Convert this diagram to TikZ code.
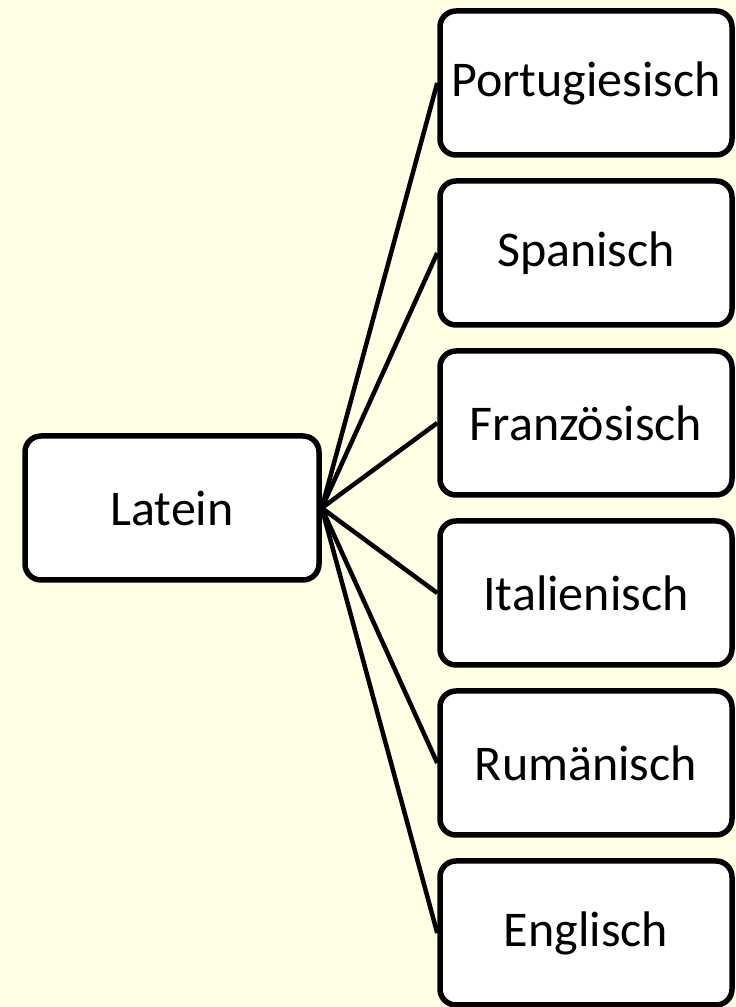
\documentclass[tikz,border=0pt]{standalone}
\usepackage{fontspec}
\setmainfont{Carlito}
\usetikzlibrary{positioning}
\definecolor{bgyellow}{RGB}{255,255,230}
\tikzset{langbox/.style={draw=black, line width=5.5pt, fill=white, rounded corners=16pt,
    minimum width=292pt, minimum height=144pt, inner sep=0pt,
    font=\fontsize{50}{60}\selectfont}}

\begin{document}
\begin{tikzpicture}[x=1pt,y=1pt]
\fill[bgyellow] (0,0) rectangle (736,1007);
\useasboundingbox (0,0) rectangle (736,1007);

\node[langbox, minimum width=294pt] (latein) at (172,499) {Latein};

\foreach \n/\t [count=\i] in {por/Portugiesisch, spa/Spanisch, fra/Französisch,
                               ita/Italienisch, rum/Rumänisch, eng/Englisch}
         {
           \node[langbox] (\n) at (586,{1007-83-170*(\i-1)}) {\t};
           \draw[line width=4.5pt] (latein.east) -- (\n.west);
         }
\end{tikzpicture}
\end{document}
